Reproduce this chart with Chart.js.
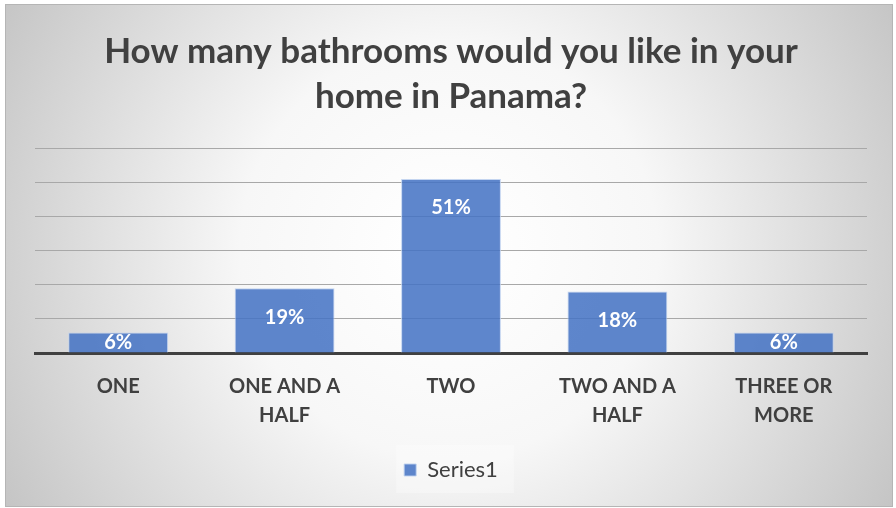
<!DOCTYPE html>
<html>
<head>
<meta charset="utf-8">
<script src="https://cdn.jsdelivr.net/npm/chart.js@4.4.1/dist/chart.umd.min.js"></script>
<style>
  html, body { margin: 0; padding: 0; background: #fff; }
  #wrap { width: 896px; height: 508px; }
</style>
</head>
<body>
<div id="wrap"><canvas id="myChart" width="896" height="508"></canvas></div>
<script>
// Survey answers and share of responses (%)
var categories = [['ONE'], ['ONE AND A', 'HALF'], ['TWO'], ['TWO AND A', 'HALF'], ['THREE OR', 'MORE']];
var series1 = [6, 19, 51, 18, 6];
var titleLines = ['How many bathrooms would you like in your', 'home in Panama?'];

var FONT = 'Lato, "Open Sans", sans-serif';
var TEXT = '#404040';

// Gray radial fill with a thin frame behind everything
var backdrop = {
    id: 'backdrop',
    beforeDraw: function(chart) {
        var c = chart.ctx;
        c.save();
        c.fillStyle = '#ffffff';
        c.fillRect(0, 0, chart.width, chart.height);
        var g = c.createRadialGradient(449, 250, 20, 449, 250, 560);
        g.addColorStop(0, '#ffffff');
        g.addColorStop(0.35, '#f7f7f7');
        g.addColorStop(1, '#bdbdbd');
        c.fillStyle = g;
        c.fillRect(5, 4, 888, 503);
        c.strokeStyle = '#b5b5b5';
        c.lineWidth = 1;
        c.strokeRect(5.5, 4.5, 887, 502);
        // faint lighter panel behind the legend
        var lg = chart.legend;
        if (lg && lg.legendHitBoxes && lg.legendHitBoxes.length) {
            var hb = lg.legendHitBoxes[0];
            c.fillStyle = 'rgba(255, 255, 255, 0.3)';
            c.fillRect(hb.left - 8, hb.top - 14, hb.width + 24, hb.height + 26);
        }
        c.restore();
    }
};

// White percentage labels near the top of each bar
var barLabels = {
    id: 'barLabels',
    afterDatasetsDraw: function(chart) {
        var c = chart.ctx;
        var meta = chart.getDatasetMeta(0);
        c.save();
        c.font = 'bold 20px ' + FONT;
        c.fillStyle = '#ffffff';
        c.textAlign = 'center';
        c.textBaseline = 'middle';
        meta.data.forEach(function(bar, i) {
            var mid = (bar.y + bar.base) / 2;
            var y = Math.min(bar.y + 29, mid);
            c.fillText(series1[i] + '%', bar.x, y);
        });
        c.restore();
    }
};

var ctx = document.getElementById('myChart').getContext('2d');

var chart = new Chart(ctx, {
    type: 'bar',
    data: {
        labels: categories,
        datasets: [{
            label: 'Series1',
            data: series1,
            backgroundColor: 'rgba(68, 114, 196, 0.86)',
            borderColor: 'rgba(190, 208, 238, 0.9)',
            borderWidth: 1,
            categoryPercentage: 1,
            barPercentage: 0.6
        }]
    },
    options: {
        responsive: false,
        animation: false,
        layout: { padding: { left: 35, right: 29, top: 0, bottom: 17 } },
        scales: {
            x: {
                grid: { display: false, drawTicks: false },
                border: { display: true, color: TEXT, width: 3 },
                ticks: {
                    color: TEXT,
                    padding: 19,
                    maxRotation: 0,
                    autoSkip: false,
                    font: { family: FONT, size: 20, weight: 'bold', lineHeight: 1.45 }
                }
            },
            y: {
                min: 0,
                max: 60,
                ticks: { display: false, stepSize: 10 },
                grid: { color: '#a8a8a8', lineWidth: 1, drawTicks: false },
                border: { display: false }
            }
        },
        plugins: {
            title: {
                display: true,
                text: titleLines,
                color: TEXT,
                font: { family: FONT, size: 35, weight: 'bold', lineHeight: 1.29 },
                padding: { top: 29, bottom: 29 }
            },
            legend: {
                position: 'bottom',
                labels: {
                    color: TEXT,
                    boxWidth: 12,
                    boxHeight: 12,
                    font: { family: FONT, size: 22 }
                }
            },
            tooltip: { enabled: false }
        }
    },
    plugins: [backdrop, barLabels]
});
</script>
</body>
</html>
